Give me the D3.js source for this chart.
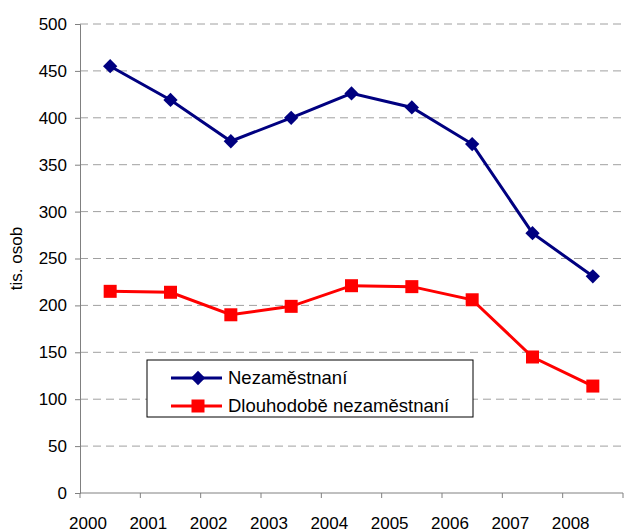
<!DOCTYPE html>
<html>
<head>
<meta charset="utf-8">
<script src="https://cdn.jsdelivr.net/npm/d3@7"></script>
<style>
  body { margin: 0; background: #fff; }
  text { font-family: "Liberation Sans", Arial, sans-serif; }
</style>
</head>
<body>
<div id="chart"></div>
<script>
// data
const years = ["2000", "2001", "2002", "2003", "2004", "2005", "2006", "2007", "2008"];
const nezamestnani = [455, 419, 375, 400, 426, 411, 372, 277, 231];
const dlouhodobe = [215, 214, 190, 199, 221, 220, 206, 145, 114];
const yTicks = [0, 50, 100, 150, 200, 250, 300, 350, 400, 450, 500];
const seriesNames = ["Nezaměstnaní", "Dlouhodobě nezaměstnaní"];

const width = 630, height = 532;
const margin = {top: 24, right: 7, bottom: 39, left: 80};

const svg = d3.select("#chart").append("svg")
    .attr("width", width)
    .attr("height", height);

const x = d3.scaleBand()
    .domain(years)
    .range([margin.left, width - margin.right]);

const y = d3.scaleLinear()
    .domain([0, 500])
    .range([height - margin.bottom, margin.top]);

// gridlines
svg.append("g")
    .selectAll("line")
    .data(yTicks.filter(d => d > 0))
    .join("line")
    .attr("x1", margin.left)
    .attr("x2", width - margin.right)
    .attr("y1", d => y(d))
    .attr("y2", d => y(d))
    .attr("stroke", "#a0a0a0")
    .attr("stroke-width", 1)
    .attr("stroke-dasharray", "8,5");

// y axis
const yAxis = svg.append("g")
    .attr("transform", `translate(${margin.left},0)`)
    .call(d3.axisLeft(y).tickValues(yTicks).tickSize(5).tickPadding(8));
yAxis.select(".domain").attr("stroke", "#808080");
yAxis.selectAll(".tick line").attr("stroke", "#808080");
yAxis.selectAll("text")
    .attr("font-size", 17)
    .attr("fill", "#000");

// x axis: ticks at the band edges, labels just right of each tick
const xAxisG = svg.append("g")
    .attr("transform", `translate(0,${y(0)})`);
xAxisG.append("line")
    .attr("x1", margin.left)
    .attr("x2", width - margin.right)
    .attr("stroke", "#808080");
const edges = years.map(d => x(d)).concat([x.range()[1]]);
xAxisG.selectAll(".tk")
    .data(edges)
    .join("line")
    .attr("class", "tk")
    .attr("x1", d => d)
    .attr("x2", d => d)
    .attr("y1", 0)
    .attr("y2", 5)
    .attr("stroke", "#808080");
xAxisG.selectAll(".lbl")
    .data(years)
    .join("text")
    .attr("class", "lbl")
    .attr("x", d => x(d) + 8)
    .attr("y", 36)
    .attr("text-anchor", "middle")
    .attr("font-size", 17)
    .text(d => d);

// y title
svg.append("text")
    .attr("transform", `translate(22,${(y(0) + y(500)) / 2}) rotate(-90)`)
    .attr("text-anchor", "middle")
    .attr("font-size", 17)
    .text("tis. osob");

const cx = d => x(d) + x.bandwidth() / 2;

const line = d3.line()
    .x(d => cx(d.year))
    .y(d => y(d.value));

const blueData = years.map((yr, i) => ({year: yr, value: nezamestnani[i]}));
const redData = years.map((yr, i) => ({year: yr, value: dlouhodobe[i]}));

const diamond = d3.symbol().type(d3.symbolDiamond2).size(130);
const sq = 13;

// red series
svg.append("path")
    .datum(redData)
    .attr("fill", "none")
    .attr("stroke", "#ff0000")
    .attr("stroke-width", 3)
    .attr("d", line);
svg.append("g")
    .selectAll("rect")
    .data(redData)
    .join("rect")
    .attr("x", d => cx(d.year) - sq / 2)
    .attr("y", d => y(d.value) - sq / 2)
    .attr("width", sq)
    .attr("height", sq)
    .attr("fill", "#ff0000");

// blue series
svg.append("path")
    .datum(blueData)
    .attr("fill", "none")
    .attr("stroke", "#000080")
    .attr("stroke-width", 3)
    .attr("d", line);
svg.append("g")
    .selectAll("path")
    .data(blueData)
    .join("path")
    .attr("transform", d => `translate(${cx(d.year)},${y(d.value)})`)
    .attr("d", diamond)
    .attr("fill", "#000080");

// legend
const legend = svg.append("g").attr("transform", "translate(147,360)");
legend.append("rect")
    .attr("width", 326)
    .attr("height", 57)
    .attr("fill", "#fff")
    .attr("stroke", "#000")
    .attr("stroke-width", 1);

const legRows = legend.selectAll(".row")
    .data(seriesNames)
    .join("g")
    .attr("class", "row")
    .attr("transform", (d, i) => `translate(0,${18 + i * 28})`);
legRows.append("line")
    .attr("x1", 24)
    .attr("x2", 75)
    .attr("stroke", (d, i) => i === 0 ? "#000080" : "#ff0000")
    .attr("stroke-width", 3);
legRows.filter((d, i) => i === 0).append("path")
    .attr("transform", "translate(51,0)")
    .attr("d", diamond)
    .attr("fill", "#000080");
legRows.filter((d, i) => i === 1).append("rect")
    .attr("x", 51 - sq / 2).attr("y", -sq / 2)
    .attr("width", sq).attr("height", sq)
    .attr("fill", "#ff0000");
legRows.append("text")
    .attr("x", 81)
    .attr("dy", "0.35em")
    .attr("font-size", 18.5)
    .text(d => d);
</script>
</body>
</html>
